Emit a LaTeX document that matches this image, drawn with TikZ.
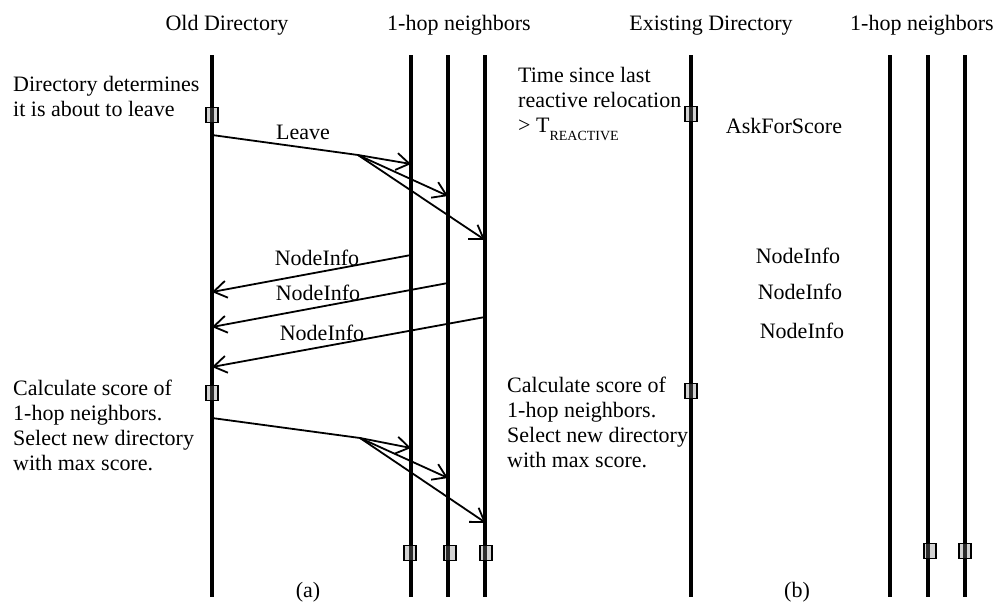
\documentclass[tikz,border=0pt]{standalone}
\usepackage{fontspec}
\setmainfont{Liberation Serif}
\usetikzlibrary{positioning,arrows.meta}

\begin{document}
\begin{tikzpicture}[x=1pt, y=-1pt, font=\fontsize{22}{25}\selectfont,
   life/.style={line width=3.6pt},
   msg/.style={line width=1.8pt},
   tip/.style={msg, -{Straight Barb[length=13pt,width=17pt,line width=1.8pt]}},
   tick/.style={draw, line width=1.2pt, fill=gray, fill opacity=0.35, draw opacity=1,
                minimum width=12pt, minimum height=15pt, inner sep=0pt},
   note/.style={align=left, anchor=north west, inner sep=0pt},
   lbl/.style={anchor=base, inner sep=0pt}]
  \useasboundingbox (0,0) rectangle (997,606);

  % lifelines
  \foreach \n/\x in {od/212, na/411, nb/448, nc/485, ed/691, ma/890, mb/928, mc/965} {
    \coordinate (\n-top) at (\x,55);
    \coordinate (\n-bot) at (\x,597);
    \draw[life] (\n-top) -- (\n-bot);
  }

  % headers
  \node[lbl] (h-old) at (227,30) {Old Directory};
  \node[lbl] (h-nl) at (459,30) {1-hop neighbors};
  \node[lbl] (h-ex) at (711,30) {Existing Directory};
  \node[lbl] (h-nr) at (922,30) {1-hop neighbors};

  % (a) old directory leaves
  \node[tick] (od-a) at (212,115) {};
  \node[note] (t-leave) at (13,76) {Directory determines\\it is about to leave};
  \coordinate (lv-s) at (212,135);
  \coordinate (lv-f) at (358,155);
  \coordinate (lv-a) at (411,164);
  \coordinate (lv-b) at (448,196);
  \coordinate (lv-c) at (485,240);
  \draw[msg] (lv-s) -- (lv-f);
  \draw[tip] (lv-f) -- (lv-a);
  \draw[tip] (lv-f) -- (lv-b);
  \draw[tip] (lv-f) -- (lv-c);
  \node[lbl] (l-leave) at (303,139) {Leave};

  \coordinate (ni-a) at (411,255);
  \coordinate (ni-b) at (448,283);
  \coordinate (ni-c) at (485,317);
  \coordinate (ni-ae) at (212,292);
  \coordinate (ni-be) at (212,327);
  \coordinate (ni-ce) at (212,367);
  \draw[tip] (ni-a) -- (ni-ae);
  \draw[tip] (ni-b) -- (ni-be);
  \draw[tip] (ni-c) -- (ni-ce);
  \node[lbl] (l-nia) at (317,265) {NodeInfo};
  \node[lbl] (l-nib) at (318,300) {NodeInfo};
  \node[lbl] (l-nic) at (322,340) {NodeInfo};

  \node[tick] (od-b) at (212,393) {};
  \node[note] (t-calc) at (13,380) {Calculate score of\\1-hop neighbors.\\Select new directory\\with max score.};
  \coordinate (nd-s) at (212,418);
  \coordinate (nd-f) at (360,438);
  \coordinate (nd-a) at (411,448);
  \coordinate (nd-b) at (448,478);
  \coordinate (nd-c) at (486,523);
  \draw[msg] (nd-s) -- (nd-f);
  \draw[tip] (nd-f) -- (nd-a);
  \draw[tip] (nd-f) -- (nd-b);
  \draw[tip] (nd-f) -- (nd-c);

  \node[tick] (na-e) at (410,553) {};
  \node[tick] (nb-e) at (450,553) {};
  \node[tick] (nc-e) at (486,553) {};
  \node[lbl] (cap-a) at (308,597) {(a)};

  % (b) existing directory relocates
  \node[tick] (ed-a) at (691,114) {};
  \node[note] (t-time) at (518,67) {Time since last\\reactive relocation\\> T\raisebox{-8pt}{\fontsize{14}{14}\selectfont REACTIVE}};
  \node[lbl] (l-ask) at (784,133) {AskForScore};
  \node[lbl] (r-nia) at (798,263) {NodeInfo};
  \node[lbl] (r-nib) at (800,299) {NodeInfo};
  \node[lbl] (r-nic) at (802,338) {NodeInfo};

  \node[tick] (ed-b) at (691,391) {};
  \node[note] (t-rcalc) at (507,377) {Calculate score of\\1-hop neighbors.\\Select new directory\\with max score.};

  \node[tick] (mb-e) at (930,551) {};
  \node[tick] (mc-e) at (965,551) {};
  \node[lbl] (cap-b) at (797,597) {(b)};
\end{tikzpicture}
\end{document}
